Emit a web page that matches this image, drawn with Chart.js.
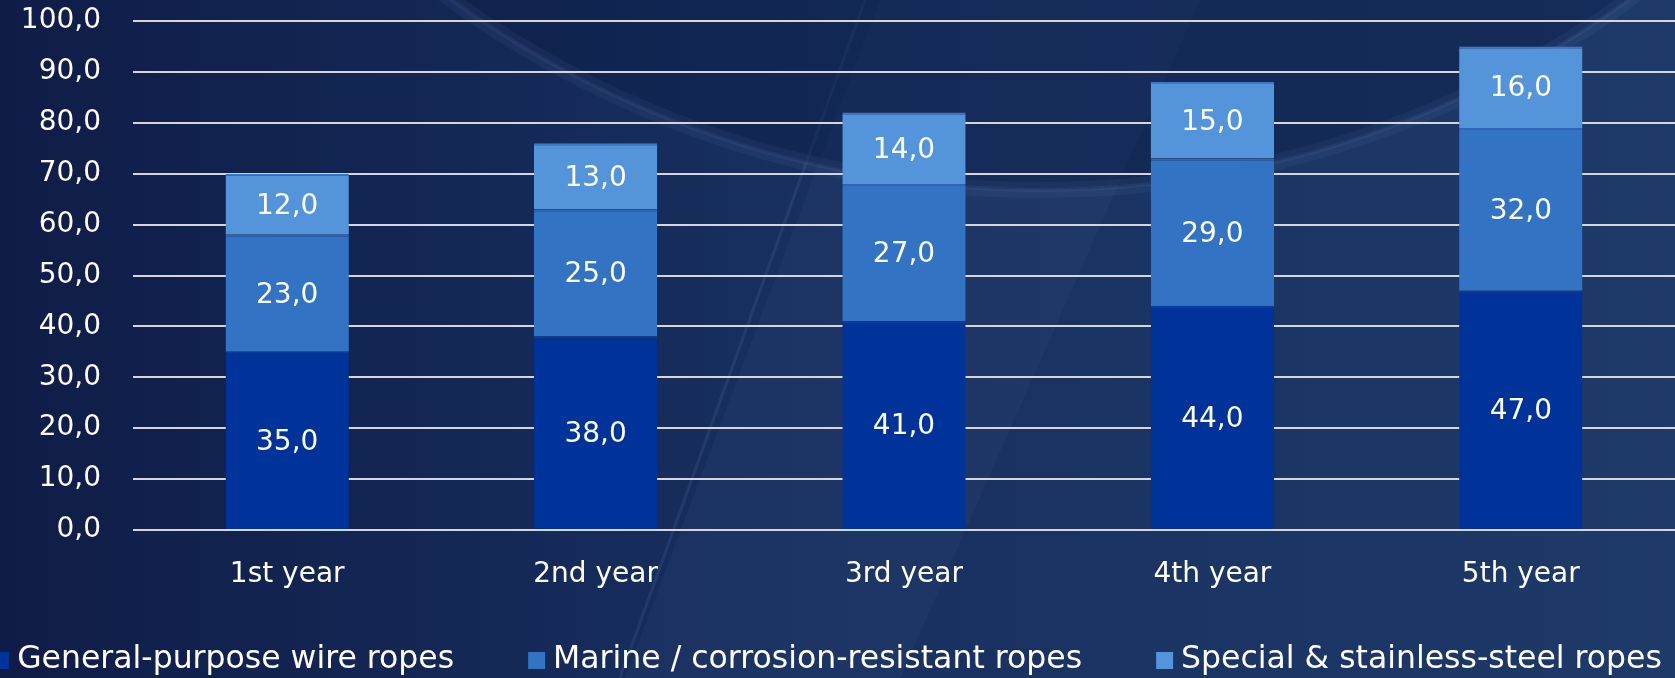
<!DOCTYPE html>
<html>
<head>
<meta charset="utf-8">
<script src="https://cdn.jsdelivr.net/npm/chart.js@4.4.1/dist/chart.umd.min.js"></script>
<style>
  html, body { margin: 0; padding: 0; background: #132551; overflow: hidden; }
  .wrap { position: relative; width: 1675px; height: 678px; }
  #myChart { position: absolute; left: 0; top: 0; }
  .legend {
    position: absolute; top: 638px; left: 827px; transform: translateX(-50%);
    white-space: nowrap; font-family: "DejaVu Sans", sans-serif; font-size: 31.5px;
    color: #fff; line-height: 38px; height: 38px;
  }
  .legend span.item { display: inline-block; margin: 0 37px; }
  .legend i { display: inline-block; width: 17px; height: 17px; margin-right: 8px; vertical-align: -1px; }
</style>
</head>
<body>
<div class="wrap">
  <canvas id="myChart" width="1675" height="678"></canvas>
  <div class="legend" id="legend"></div>
</div>
<script>
// --- dados ---
var categories = ['1st year', '2nd year', '3rd year', '4th year', '5th year'];
var seriesNames = ['General-purpose wire ropes', 'Marine / corrosion-resistant ropes', 'Special & stainless-steel ropes'];
var generalPurpose = [35, 38, 41, 44, 47];
var marine = [23, 25, 27, 29, 32];
var special = [12, 13, 14, 15, 16];
var seriesColors = ['#003399', '#3273c4', '#5494db'];
var seriesEdges = ['#0a3a9c', '#2c66b4', '#3d78c6'];

var FONT = '"DejaVu Sans", sans-serif';
var fmt = function(v) { return Number(v).toFixed(1).replace('.', ','); };

// fundo azul com curvas
var bgPlugin = {
  id: 'bg',
  beforeDraw: function(chart) {
    var c = chart.ctx, w = chart.width, h = chart.height;
    c.save();
    var g = c.createLinearGradient(0, 0, w, 0);
    g.addColorStop(0, '#0f1c47');
    g.addColorStop(0.45, '#172f5e');
    g.addColorStop(1, '#1e3a69');
    c.fillStyle = g;
    c.fillRect(0, 0, w, h);
    // faixa clara diagonal
    c.beginPath();
    c.moveTo(880, 0);
    c.lineTo(1200, 0);
    c.lineTo(900, 678);
    c.lineTo(625, 678);
    c.closePath();
    c.fillStyle = 'rgba(130,165,220,0.05)';
    c.fill();
    c.beginPath();
    c.moveTo(865, 0);
    c.lineTo(620, 678);
    c.strokeStyle = 'rgba(150,180,235,0.10)';
    c.lineWidth = 3;
    c.stroke();
    // circulo grande mais escuro, com brilho suave na borda
    c.beginPath();
    c.arc(1040, -815, 1005, 0, Math.PI * 2);
    c.fillStyle = 'rgba(12,28,72,0.45)';
    c.fill();
    c.strokeStyle = 'rgba(150,180,235,0.06)';
    c.lineWidth = 16;
    c.stroke();
    c.strokeStyle = 'rgba(150,180,235,0.07)';
    c.lineWidth = 4;
    c.stroke();
    c.restore();
  }
};

// rotulos dentro das barras
var labelPlugin = {
  id: 'barLabels',
  afterDatasetsDraw: function(chart) {
    var c = chart.ctx;
    c.save();
    c.font = '28px ' + FONT;
    c.fillStyle = '#ffffff';
    c.textAlign = 'center';
    c.textBaseline = 'middle';
    chart.data.datasets.forEach(function(ds, i) {
      var meta = chart.getDatasetMeta(i);
      meta.data.forEach(function(el, j) {
        c.fillText(fmt(ds.data[j]), el.x, (el.y + el.base) / 2 + 2);
      });
    });
    c.restore();
  }
};

var allData = [generalPurpose, marine, special];
var datasets = allData.map(function(d, i) {
  return {
    label: seriesNames[i],
    data: d,
    backgroundColor: seriesColors[i],
    borderColor: seriesEdges[i],
    borderWidth: { top: 2, left: 0, right: 0, bottom: 0 },
    borderSkipped: false,
    barPercentage: 0.4,
    categoryPercentage: 1.0
  };
});

// legenda em HTML (ela passa da borda esquerda no original)
var lg = document.getElementById('legend');
seriesNames.forEach(function(n, i) {
  var s = document.createElement('span');
  s.className = 'item';
  var b = document.createElement('i');
  b.style.background = seriesColors[i];
  s.appendChild(b);
  s.appendChild(document.createTextNode(n));
  lg.appendChild(s);
});

var ctx = document.getElementById('myChart').getContext('2d');
new Chart(ctx, {
  type: 'bar',
  data: { labels: categories, datasets: datasets },
  plugins: [bgPlugin, labelPlugin],
  options: {
    responsive: false,
    animation: false,
    layout: { padding: { left: 0, right: 0, top: 21, bottom: 0 } },
    plugins: {
      legend: { display: false },
      tooltip: { enabled: false }
    },
    scales: {
      x: {
        stacked: true,
        afterFit: function(scale) { scale.height = 148; scale.paddingLeft = 0; scale.paddingRight = 0; },
        grid: { display: false, drawTicks: false },
        border: { display: false },
        ticks: { color: '#ffffff', font: { family: FONT, size: 28 }, padding: 28 }
      },
      y: {
        stacked: true,
        min: 0,
        max: 100,
        afterFit: function(scale) { scale.width = 133; scale.paddingTop = 0; scale.paddingBottom = 0; },
        grid: { color: '#d6d6d6', lineWidth: 2, drawTicks: false },
        border: { display: false },
        ticks: {
          stepSize: 10,
          color: '#ffffff',
          padding: 32,
          font: { family: FONT, size: 28 },
          callback: function(v) { return fmt(v); }
        }
      }
    }
  }
});
</script>
</body>
</html>
